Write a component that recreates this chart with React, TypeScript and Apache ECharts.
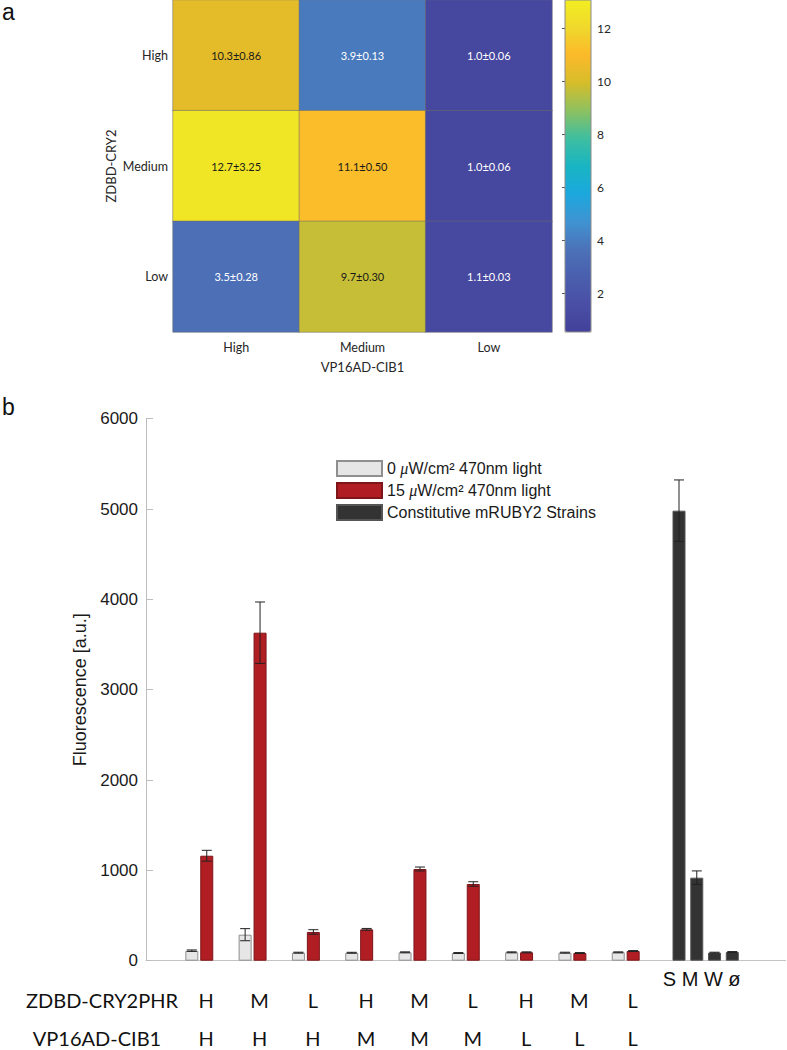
import React, { useEffect, useRef } from 'react';
import * as echarts from 'echarts';

// ---------- Panel a: heatmap ----------
const hmX = ['High', 'Medium', 'Low']; // VP16AD-CIB1
const hmY = ['High', 'Medium', 'Low']; // ZDBD-CRY2
const hmValues = [
  [10.3, 3.9, 1.0],
  [12.7, 11.1, 1.0],
  [3.5, 9.7, 1.1],
];
const hmErrors = [
  [0.86, 0.13, 0.06],
  [3.25, 0.5, 0.06],
  [0.28, 0.3, 0.03],
];
const cbMin = 0.53;
const cbMax = 13.06;
const cbTicks = [2, 4, 6, 8, 10, 12];

// ---------- Panel b: bars ----------
const zdbdLevels = ['H', 'M', 'L', 'H', 'M', 'L', 'H', 'M', 'L'];
const vp16Levels = ['H', 'H', 'H', 'M', 'M', 'M', 'L', 'L', 'L'];
const darkMeans = [111, 288, 89, 88, 93, 85, 93, 89, 93];
const darkErrs = [8, 67, 5, 5, 5, 5, 5, 5, 5];
const lightMeans = [1162, 3631, 318, 347, 1015, 849, 93, 85, 107];
const lightErrs = [60, 340, 25, 10, 22, 25, 5, 5, 5];
const strainLabels = ['S', 'M', 'W', 'ø'];
const strainMeans = [4982, 919, 89, 96];
const strainErrs = [340, 75, 5, 5];
const yTicksMax = 6000;

const parulaLike = [
  '#43419A', '#4A4FA5', '#4A5FAE', '#4C72B8', '#3F93D2', '#1BA8DD', '#19B5C3',
  '#3EBEA0', '#8DC160', '#D6BD2A', '#FCB92A', '#F0D82C', '#F2EE22',
];

const HM_FONT = 'Lato';
const AR_FONT = 'Liberation Sans';

export default function App() {
  const ref = useRef<HTMLDivElement>(null);
  useEffect(() => {
    if (!ref.current) return;
    const chart = echarts.init(ref.current, undefined, { renderer: 'svg' });

    const hmData: any[] = [];
    hmY.forEach((_, r) => {
      hmX.forEach((__, c) => {
        const v = hmValues[r][c];
        hmData.push({
          value: [c, r, v],
          err: hmErrors[r][c],
          label: { color: v > 7 ? '#1a1a1a' : '#ffffff' },
        });
      });
    });

    const grayOff = -0.14;
    const redOff = 0.14;
    const groupX = (i: number) => i;
    const strainX = (k: number) => 9 + k / 3;

    const darkData = darkMeans.map((v, i) => [groupX(i) + grayOff, v]);
    const lightData = lightMeans.map((v, i) => [groupX(i) + redOff, v]);
    const strainData = strainMeans.map((v, k) => [strainX(k), v]);

    const errData: number[][] = [];
    darkMeans.forEach((v, i) => errData.push([groupX(i) + grayOff, v - darkErrs[i], v + darkErrs[i]]));
    lightMeans.forEach((v, i) => errData.push([groupX(i) + redOff, v - lightErrs[i], v + lightErrs[i]]));
    strainMeans.forEach((v, k) => errData.push([strainX(k), v - strainErrs[k], v + strainErrs[k]]));

    const rowLabelData = zdbdLevels.map((_, i) => [groupX(i) + 0.13, 0]);
    const strainMid = (strainX(0) + strainX(strainLabels.length - 1)) / 2;
    const strainLabelData = [[strainMid, 0]];

    const legendNames: Record<string, string> = {
      dark: '0 {mu|μ}W/cm² 470nm light',
      light: '15 {mu|μ}W/cm² 470nm light',
      strains: 'Constitutive mRUBY2 Strains',
    };

    const option: any = {
      animation: false,
      backgroundColor: '#ffffff',
      grid: [
        { left: 173, top: 0, width: 379, height: 332 },
        { left: 146, top: 418.7, width: 639.6, height: 542 },
        { left: 565, top: 0, width: 26, height: 332, show: true, borderColor: '#8c8c8c', borderWidth: 1, backgroundColor: 'transparent', z: 10 },
      ],
      xAxis: [
        {
          gridIndex: 0,
          type: 'category',
          data: hmX,
          axisLine: { show: false },
          axisTick: { show: false },
          axisLabel: { margin: 9, fontFamily: HM_FONT, fontSize: 12.5, color: '#262626' },
          name: 'VP16AD-CIB1',
          nameLocation: 'middle',
          nameGap: 28,
          nameTextStyle: { fontFamily: HM_FONT, fontSize: 13, color: '#262626' },
        },
        {
          gridIndex: 1,
          type: 'value',
          min: -1,
          max: 11,
          axisLine: { show: true, onZero: false, lineStyle: { color: '#c4c4c4', width: 1 } },
          axisTick: { show: false },
          axisLabel: { show: false },
          splitLine: { show: false },
        },
        { gridIndex: 2, type: 'value', show: false, min: 0, max: 1 },
      ],
      yAxis: [
        {
          gridIndex: 0,
          type: 'category',
          data: hmY,
          inverse: true,
          axisLine: { show: false },
          axisTick: { show: false },
          axisLabel: { margin: 5, fontFamily: HM_FONT, fontSize: 12.5, color: '#262626' },
          name: 'ZDBD-CRY2',
          nameLocation: 'middle',
          nameRotate: 90,
          nameGap: 56,
          nameTextStyle: { fontFamily: HM_FONT, fontSize: 13, color: '#262626' },
        },
        {
          gridIndex: 1,
          type: 'value',
          min: 0,
          max: yTicksMax,
          interval: 1000,
          axisLine: { show: true, onZero: false, lineStyle: { color: '#bdbdbd', width: 1 } },
          axisTick: { show: true, inside: true, length: 7, lineStyle: { color: '#bdbdbd' } },
          axisLabel: {
            margin: 8,
            fontFamily: AR_FONT,
            fontSize: 17,
            color: '#1a1a1a',
            formatter: (v: number) => String(v),
          },
          splitLine: { show: false },
          name: 'Fluorescence [a.u.]',
          nameLocation: 'middle',
          nameRotate: 90,
          nameGap: 53,
          nameTextStyle: { fontFamily: AR_FONT, fontSize: 18, color: '#1a1a1a' },
        },
        {
          gridIndex: 2,
          type: 'value',
          min: cbMin,
          max: cbMax,
          position: 'right',
          axisLine: { show: false },
          axisTick: { show: true, inside: true, length: 3, customValues: cbTicks, lineStyle: { color: '#555' } },
          axisLabel: { customValues: cbTicks, margin: 6, fontFamily: HM_FONT, fontSize: 12, color: '#262626' },
          splitLine: { show: false },
        },
      ],
      visualMap: {
        type: 'continuous',
        seriesIndex: 0,
        min: cbMin,
        max: cbMax,
        calculable: false,
        hoverLink: false,
        left: 565,
        top: 0,
        padding: 0,
        itemWidth: 26,
        itemHeight: 332,
        inRange: { color: parulaLike },
      },
      legend: {
        orient: 'vertical',
        left: 336,
        top: 460,
        padding: 0,
        itemWidth: 45,
        itemHeight: 15,
        itemGap: 5,
        selectedMode: false,
        icon: 'rect',
        data: ['dark', 'light', 'strains'],
        formatter: (name: string) => legendNames[name],
        textStyle: {
          fontFamily: AR_FONT,
          fontSize: 16,
          color: '#1a1a1a',
          rich: {
            mu: { fontFamily: 'Liberation Serif', fontStyle: 'italic', fontSize: 16, color: '#1a1a1a' },
          },
        },
      },
      graphic: [
        { type: 'text', left: 2, top: 0, style: { text: 'a', fontFamily: AR_FONT, fontSize: 23, fill: '#111' } },
        { type: 'text', left: 2, top: 395, style: { text: 'b', fontFamily: AR_FONT, fontSize: 23, fill: '#111' } },
        {
          type: 'text',
          x: 577,
          y: 138,
          rotation: -Math.PI / 2,
          style: { text: 'Fold-Change', fontFamily: HM_FONT, fontSize: 13, fill: '#1a1a1a', align: 'center', verticalAlign: 'middle' },
        },
        {
          type: 'text',
          x: 102,
          y: 1000,
          style: { text: 'ZDBD-CRY2PHR', fontFamily: HM_FONT, fontSize: 20, fill: '#111', align: 'center', verticalAlign: 'middle' },
        },
        {
          type: 'text',
          x: 97,
          y: 1038,
          style: { text: 'VP16AD-CIB1', fontFamily: HM_FONT, fontSize: 20, fill: '#111', align: 'center', verticalAlign: 'middle' },
        },
      ],
      series: [
        {
          type: 'heatmap',
          xAxisIndex: 0,
          yAxisIndex: 0,
          data: hmData,
          itemStyle: { borderColor: 'rgba(110,110,110,0.55)', borderWidth: 1 },
          label: {
            show: true,
            fontFamily: HM_FONT,
            fontSize: 11,
            formatter: (p: any) => `${p.value[2].toFixed(1)}±${p.data.err.toFixed(2)}`,
          },
          emphasis: { disabled: true },
        },
        {
          name: 'dark',
          type: 'bar',
          xAxisIndex: 1,
          yAxisIndex: 1,
          barWidth: 13,
          barGap: '-100%',
          data: darkData,
          itemStyle: { color: '#e6e6e6', borderColor: '#8f8f8f', borderWidth: 1 },
          emphasis: { disabled: true },
        },
        {
          name: 'light',
          type: 'bar',
          xAxisIndex: 1,
          yAxisIndex: 1,
          barWidth: 13,
          barGap: '-100%',
          data: lightData,
          itemStyle: { color: '#b01e24', borderColor: '#7d1519', borderWidth: 1 },
          emphasis: { disabled: true },
        },
        {
          name: 'strains',
          type: 'bar',
          xAxisIndex: 1,
          yAxisIndex: 1,
          barWidth: 13,
          barGap: '-100%',
          data: strainData,
          itemStyle: { color: '#333333', borderColor: '#555555', borderWidth: 1 },
          emphasis: { disabled: true },
        },
        {
          type: 'custom',
          xAxisIndex: 1,
          yAxisIndex: 1,
          z: 5,
          data: errData,
          encode: { x: 0, y: [1, 2] },
          renderItem: (_p: any, api: any) => {
            const x = api.value(0);
            const top = api.coord([x, api.value(2)]);
            const bot = api.coord([x, api.value(1)]);
            const hw = 5;
            const style = { stroke: '#222', lineWidth: 1 };
            return {
              type: 'group',
              children: [
                { type: 'line', shape: { x1: top[0], y1: top[1], x2: bot[0], y2: bot[1] }, style },
                { type: 'line', shape: { x1: top[0] - hw, y1: top[1], x2: top[0] + hw, y2: top[1] }, style },
                { type: 'line', shape: { x1: bot[0] - hw, y1: bot[1], x2: bot[0] + hw, y2: bot[1] }, style },
              ],
            };
          },
        },
        {
          type: 'custom',
          xAxisIndex: 1,
          yAxisIndex: 1,
          data: rowLabelData,
          encode: { x: 0, y: 1 },
          renderItem: (p: any, api: any) => {
            const pt = api.coord([api.value(0), 0]);
            const i = p.dataIndex;
            const st = { fontFamily: HM_FONT, fontSize: 20, fill: '#111', align: 'center', verticalAlign: 'middle' };
            return {
              type: 'group',
              children: [
                { type: 'text', x: pt[0], y: pt[1] + 39, style: { ...st, text: zdbdLevels[i] } },
                { type: 'text', x: pt[0], y: pt[1] + 77, style: { ...st, text: vp16Levels[i] } },
              ],
            };
          },
        },
        {
          type: 'custom',
          xAxisIndex: 1,
          yAxisIndex: 1,
          data: strainLabelData,
          encode: { x: 0, y: 1 },
          renderItem: (_p: any, api: any) => {
            const pt = api.coord([api.value(0), 0]);
            return {
              type: 'text',
              x: pt[0] - 4,
              y: pt[1] + 18,
              style: {
                text: strainLabels.join(' '),
                fontFamily: AR_FONT,
                fontSize: 20,
                fill: '#111',
                align: 'center',
                verticalAlign: 'middle',
              },
            };
          },
        },
      ],
    };

    chart.setOption(option);
    return () => chart.dispose();
  }, []);

  return <div ref={ref} style={{ position: 'fixed', left: 0, top: 0, width: 787, height: 1050 }} />;
}
